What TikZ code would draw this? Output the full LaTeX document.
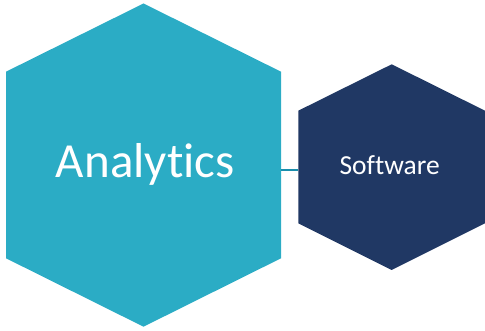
\documentclass[tikz,border=0pt]{standalone}
\usepackage{fontspec}
\setmainfont[Ligatures=NoCommon]{Carlito}
\definecolor{tealfill}{HTML}{2BACC5}
\definecolor{navyfill}{HTML}{203864}
\definecolor{linkcol}{HTML}{1A8FAD}
\begin{document}
\begin{tikzpicture}[x=1pt,y=1pt,
  hexlabel/.style={text=white,inner sep=0pt,anchor=base},
  link/.style={draw=linkcol,line width=2.2pt}]
\useasboundingbox (0,0) rectangle (485,331);
% large hexagon
\fill[tealfill] (143.5,327.5) -- (281,259.3) -- (281,72.7) -- (143.5,4.3)
  -- (6,72.7) -- (6,259.3) -- cycle;
% small hexagon
\fill[navyfill] (391.7,266.7) -- (485,220.3) -- (485,107.7) -- (391.7,61)
  -- (298.3,107.7) -- (298.3,220.3) -- cycle;
\node[hexlabel,font=\fontsize{49}{55}\selectfont] (analytics) at (145.3,153.3) {Analytics};
\node[hexlabel,font=\fontsize{27.5}{32}\selectfont] (software) at (389.7,156.7) {Software};
\coordinate (bigR) at (281,161);
\coordinate (smallL) at (298.3,161);
\draw[link] (bigR) -- (smallL);
\end{tikzpicture}
\end{document}
